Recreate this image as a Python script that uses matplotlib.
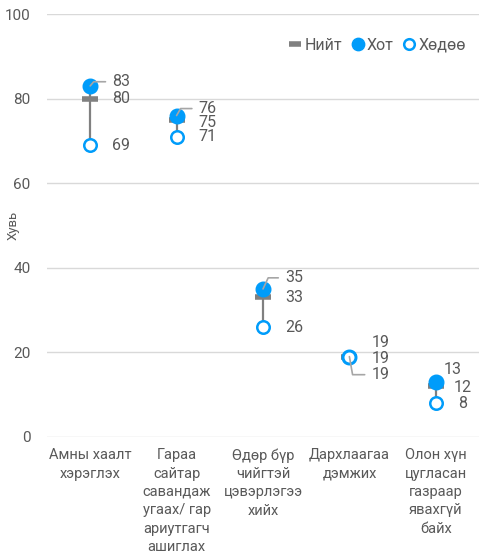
import matplotlib
matplotlib.use("Agg")
import matplotlib.pyplot as plt

plt.rcParams["font.family"] = ["Roboto", "DejaVu Sans"]

categories = [
    "Амны хаалт\nхэрэглэх",
    "Гараа\nсайтар\nсавандаж\nугаах/ гар\nариутгагч\nашиглах",
    "Өдөр бүр\nчийгтэй\nцэвэрлэгээ\nхийх",
    "Дархлаагаа\nдэмжих",
    "Олон хүн\nцугласан\nгазраар\nявахгүй\nбайх",
]
niit = [80, 75, 33, 19, 12]
khot = [83, 76, 35, 19, 13]
khudoo = [69, 71, 26, 19, 8]

BLUE = "#009CFA"
GRAY = "#808080"
TEXT = "#595959"

# label offsets in points (dx, dy) per series
khot_off = [(16, 3), (16, 5), (16, 8), (16, 10), (6, 9)]
niit_off = [(16, 0), (16, -2), (16, 0), (16, -1), (13, -1)]
khudoo_off = [(16, 0), (16, 0), (16, 0), (16, -13), (16, 0)]

# leader lines: (series, index, angle of the slanted part)
leaders = [("khot", 0, 50), ("khot", 1, 60), ("khot", 2, 65), ("khudoo", 3, -80)]

fig = plt.figure(figsize=(4.79, 5.57), dpi=100)
ax = fig.add_axes([47 / 479, 120 / 557, 432 / 479, 423 / 557])

x = list(range(len(categories)))

for i in x:
    ax.plot([i, i], [khudoo[i], khot[i]], color=GRAY, lw=1.6, zorder=2)

ax.plot(x, niit, ls="none", marker="_", ms=11, mew=4, color=GRAY, zorder=3, label="Нийт")
ax.plot(x, khot, ls="none", marker="o", ms=10.5, color=BLUE, mec=BLUE, zorder=4, label="Хот")
ax.plot(x, khudoo, ls="none", marker="o", ms=9, mfc="white", mec=BLUE, mew=1.8, zorder=5,
        label="Хөдөө")

series = {"khot": (khot, khot_off), "niit": (niit, niit_off), "khudoo": (khudoo, khudoo_off)}
for name, (vals, offs) in series.items():
    for i, v in enumerate(vals):
        ax.annotate(f"{v}", (i, v), xytext=offs[i], textcoords="offset points",
                    ha="left", va="center", fontsize=11.5, color=TEXT, zorder=6)

for name, i, ang in leaders:
    vals, offs = series[name]
    dx, dy = offs[i]
    ax.annotate("", (i, vals[i]), xytext=(dx - 5, dy), textcoords="offset points",
                arrowprops=dict(arrowstyle="-", color="#A6A6A6", lw=1.2, shrinkA=0, shrinkB=0,
                                connectionstyle=f"angle,angleA=0,angleB={ang},rad=0"),
                zorder=7)

ax.set_xlim(-0.5, len(categories) - 0.5)
ax.set_ylim(0, 100)
ax.set_yticks([0, 20, 40, 60, 80, 100])
ax.set_xticks(x)
ax.set_xticklabels(categories, fontsize=10.5, color=TEXT, linespacing=1.4)
ax.tick_params(axis="y", length=0, labelsize=11, labelcolor=TEXT, pad=12)
ax.tick_params(axis="x", length=0, pad=8)
ax.grid(axis="y", color="#D9D9D9", lw=1)
ax.set_axisbelow(True)
for s in ax.spines.values():
    s.set_visible(False)
ax.set_ylabel("Хувь", fontsize=9.5, color=TEXT)
ax.yaxis.set_label_coords(-0.064, 0.5)

ax.legend(loc="upper right", bbox_to_anchor=(0.995, 0.97), ncol=3, frameon=False, fontsize=11.5,
          labelcolor=TEXT, handlelength=0.8, handletextpad=0.15, columnspacing=0.6,
          markerscale=0.85, borderaxespad=0.3)

fig.savefig("out.png", dpi=100)
